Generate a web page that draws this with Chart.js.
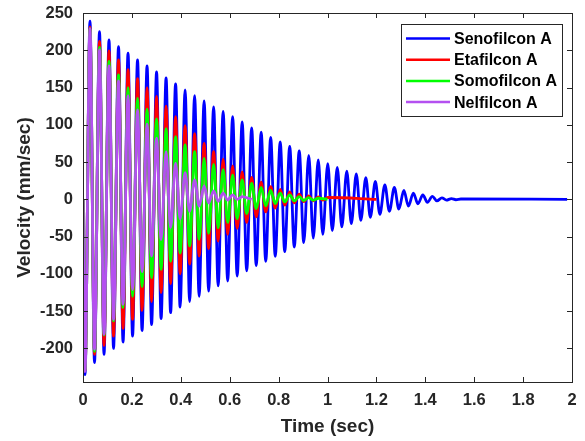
<!DOCTYPE html>
<html>
<head>
<meta charset="utf-8">
<script src="https://cdn.jsdelivr.net/npm/chart.js@4.4.1/dist/chart.umd.min.js"></script>
<style>
  html, body { margin: 0; padding: 0; background: #fff; }
  #wrap { width: 585px; height: 441px; }
</style>
</head>
<body>
<div id="wrap"><canvas id="velChart"></canvas></div>
<script>
/* ---------------- data ---------------- */

const seriesNames = ["Senofilcon A", "Etafilcon A", "Somofilcon A", "Nelfilcon A"];
const seriesColors = ["#0000ff", "#ff0000", "#00ff00", "#b450f0"];

// times (sec) of the troughs / peaks of each cycle (shared by all lenses)
const troughTimes = [0.0082, 0.0471, 0.0860, 0.1249, 0.1638, 0.2027, 0.2416, 0.2805, 0.3194, 0.3583,
  0.3972, 0.4361, 0.4750, 0.5139, 0.5528, 0.5917, 0.6306, 0.6695, 0.7084, 0.7473,
  0.7862, 0.8251, 0.8640, 0.9029, 0.9418, 0.9807, 1.0196, 1.0585, 1.0974, 1.1363,
  1.1752, 1.2141, 1.2530, 1.2919, 1.3308, 1.3697, 1.4086, 1.4475, 1.4864, 1.5253];
const peakTimes = [0.0286, 0.0675, 0.1064, 0.1453, 0.1842, 0.2231, 0.2620, 0.3009, 0.3398, 0.3787,
  0.4176, 0.4565, 0.4954, 0.5343, 0.5732, 0.6121, 0.6510, 0.6899, 0.7288, 0.7677,
  0.8066, 0.8455, 0.8844, 0.9233, 0.9622, 1.0011, 1.0400, 1.0789, 1.1178, 1.1567,
  1.1956, 1.2345, 1.2734, 1.3123, 1.3512, 1.3901, 1.4290, 1.4679, 1.5068, 1.5457];

// Senofilcon A
const senoTroughs = [-235, -219, -208, -200, -191.5, -183.5, -176, -168, -160, -152,
  -144.5, -137, -130, -123, -116, -109.5, -103, -96, -89, -83,
  -76.5, -70, -64, -58, -52, -47, -42, -37, -32.5, -28,
  -24, -20, -16, -13, -9, -6, -4, -2, -1, -0.5];
const senoPeaks = [239, 225, 214, 205, 196, 187, 179, 171, 163, 155,
  147, 139, 132, 124, 118, 111, 104, 96, 90, 83,
  77, 71, 65, 59, 53, 48, 43, 38, 34, 29,
  24, 19.5, 16, 12, 8.5, 6, 4, 2, 1, 0.5];

// Etafilcon A
const etaTroughs = [-230, -208, -196, -183.5, -173, -161, -149, -137, -125, -113,
  -100, -87, -76, -66, -56, -47, -39, -31, -23.5, -16.8,
  -11.8, -7.8, -4.7, -3, -2, -1];
const etaPeaks = [231, 212, 199, 187, 174, 162, 150, 138, 125, 111,
  99, 88, 75, 64, 54, 45, 37, 29.5, 23, 17,
  13.5, 10, 7, 4.7, 3.2, 2.5];

// Somofilcon A
const somoTroughs = [-229, -204, -182, -163, -145, -130, -117, -105, -94, -83,
  -72, -62.5, -53.5, -45.5, -38, -31, -26, -19, -12.4, -8.7,
  -5.6, -3.4, -2, -1.5, -1];
const somoPeaks = [229, 204, 185, 167, 150, 135.5, 121, 108, 95, 84,
  73, 64, 55, 47, 40, 32.5, 26, 21.5, 16, 12,
  8.5, 6, 3.8, 2.4, 1.5];

// Nelfilcon A
const nelTroughs = [-231, -201, -181, -161, -141, -121, -97, -76, -54, -38,
  -26, -16, -9, -5, -2.5, -1, 0];
const nelPeaks = [229, 200.5, 179, 159, 139, 120, 101, 82, 64, 48.7,
  36, 26, 18, 11.4, 8.3, 6, 3.8];

// time at which each trace stops
const endTimes = [1.98, 1.2, 1.0, 0.69];

const xTicks = [0, 0.2, 0.4, 0.6, 0.8, 1, 1.2, 1.4, 1.6, 1.8, 2];
const yTicks = [-200, -150, -100, -50, 0, 50, 100, 150, 200, 250];

/* ---------------- build point lists ---------------- */

function buildPoints(troughs, peaks, endT) {
  const pts = [{ x: 0, y: 0 }];
  for (let i = 0; i < troughs.length; i++) {
    pts.push({ x: troughTimes[i], y: troughs[i] });
    if (i < peaks.length) pts.push({ x: peakTimes[i], y: peaks[i] });
  }
  pts.push({ x: endT, y: 0 });
  return pts;
}

const allTroughs = [senoTroughs, etaTroughs, somoTroughs, nelTroughs];
const allPeaks = [senoPeaks, etaPeaks, somoPeaks, nelPeaks];

const datasets = seriesNames.map((name, i) => ({
  label: name,
  data: buildPoints(allTroughs[i], allPeaks[i], endTimes[i]),
  borderColor: seriesColors[i],
  borderWidth: 2.8,
  pointRadius: 0,
  fill: false,
  cubicInterpolationMode: "monotone",
  order: 4 - i   // last series painted on top
}));

const FONT = "'Liberation Sans', Arial, Helvetica, sans-serif";
const AXIS = "#262626";

/* ---------------- matlab-like box, inward ticks, legend ---------------- */

const boxPlugin = {
  id: "boxPlugin",
  afterDatasetsDraw(chart) {
    const { ctx, chartArea: a, scales } = chart;
    ctx.save();
    ctx.strokeStyle = AXIS;
    ctx.lineWidth = 1;
    ctx.strokeRect(Math.round(a.left) + 0.5, Math.round(a.top) + 0.5,
      Math.round(a.right - a.left), Math.round(a.bottom - a.top));
    ctx.beginPath();
    xTicks.forEach(v => {
      const px = Math.round(scales.x.getPixelForValue(v)) + 0.5;
      ctx.moveTo(px, a.bottom); ctx.lineTo(px, a.bottom - 5);
      ctx.moveTo(px, a.top); ctx.lineTo(px, a.top + 5);
    });
    yTicks.forEach(v => {
      const py = Math.round(scales.y.getPixelForValue(v)) + 0.5;
      ctx.moveTo(a.left, py); ctx.lineTo(a.left + 5, py);
      ctx.moveTo(a.right, py); ctx.lineTo(a.right - 5, py);
    });
    ctx.stroke();
    ctx.restore();
  },
  afterDraw(chart) {
    const ctx = chart.ctx;
    const box = { l: 401, t: 24, r: 562, b: 116 };
    ctx.save();
    ctx.fillStyle = "#fff";
    ctx.fillRect(box.l, box.t, box.r - box.l, box.b - box.t);
    ctx.strokeStyle = AXIS;
    ctx.lineWidth = 1;
    ctx.strokeRect(box.l + 0.5, box.t + 0.5, box.r - box.l, box.b - box.t);
    ctx.font = "bold 16px " + FONT;
    ctx.textBaseline = "middle";
    ctx.textAlign = "left";
    seriesNames.forEach((name, i) => {
      const y = 38.5 + i * 21.2;
      ctx.strokeStyle = seriesColors[i];
      ctx.lineWidth = 2.5;
      ctx.beginPath();
      ctx.moveTo(406, y); ctx.lineTo(450, y);
      ctx.stroke();
      ctx.fillStyle = "#000";
      ctx.fillText(name, 454, y + 1);
    });
    ctx.restore();
  }
};

/* ---------------- chart ---------------- */

new Chart(document.getElementById("velChart"), {
  type: "line",
  data: { datasets },
  options: {
    responsive: true,
    maintainAspectRatio: false,
    animation: false,
    devicePixelRatio: 1,
    layout: { padding: { top: 13, right: 13, left: 0, bottom: 0 } },
    plugins: {
      legend: { display: false },
      tooltip: { enabled: false }
    },
    scales: {
      x: {
        type: "linear",
        min: 0,
        max: 2,
        afterBuildTicks: s => { s.ticks = xTicks.map(v => ({ value: v })); },
        afterFit: s => { s.height = 59; s.paddingLeft = 0; s.paddingRight = 0; },
        grid: { display: false, drawTicks: false },
        border: { display: false },
        ticks: {
          padding: 9,
          color: AXIS,
          font: { family: FONT, size: 16.5, weight: "bold" },
          maxRotation: 0,
          callback: v => String(Math.round(v * 10) / 10)
        },
        title: {
          display: true,
          text: "Time (sec)",
          color: AXIS,
          font: { family: FONT, size: 19, weight: "bold" },
          padding: { top: 0, bottom: 3 }
        }
      },
      y: {
        min: -245,
        max: 250,
        afterBuildTicks: s => { s.ticks = yTicks.map(v => ({ value: v })); },
        afterFit: s => { s.width = 83; s.paddingTop = 0; s.paddingBottom = 0; },
        grid: { display: false, drawTicks: false },
        border: { display: false },
        ticks: {
          padding: 10,
          color: AXIS,
          font: { family: FONT, size: 16.5, weight: "bold" }
        },
        title: {
          display: true,
          text: "Velocity (mm/sec)",
          color: AXIS,
          font: { family: FONT, size: 19, weight: "bold" },
          padding: { top: 13, bottom: 0 }
        }
      }
    }
  },
  plugins: [boxPlugin]
});
</script>
</body>
</html>
